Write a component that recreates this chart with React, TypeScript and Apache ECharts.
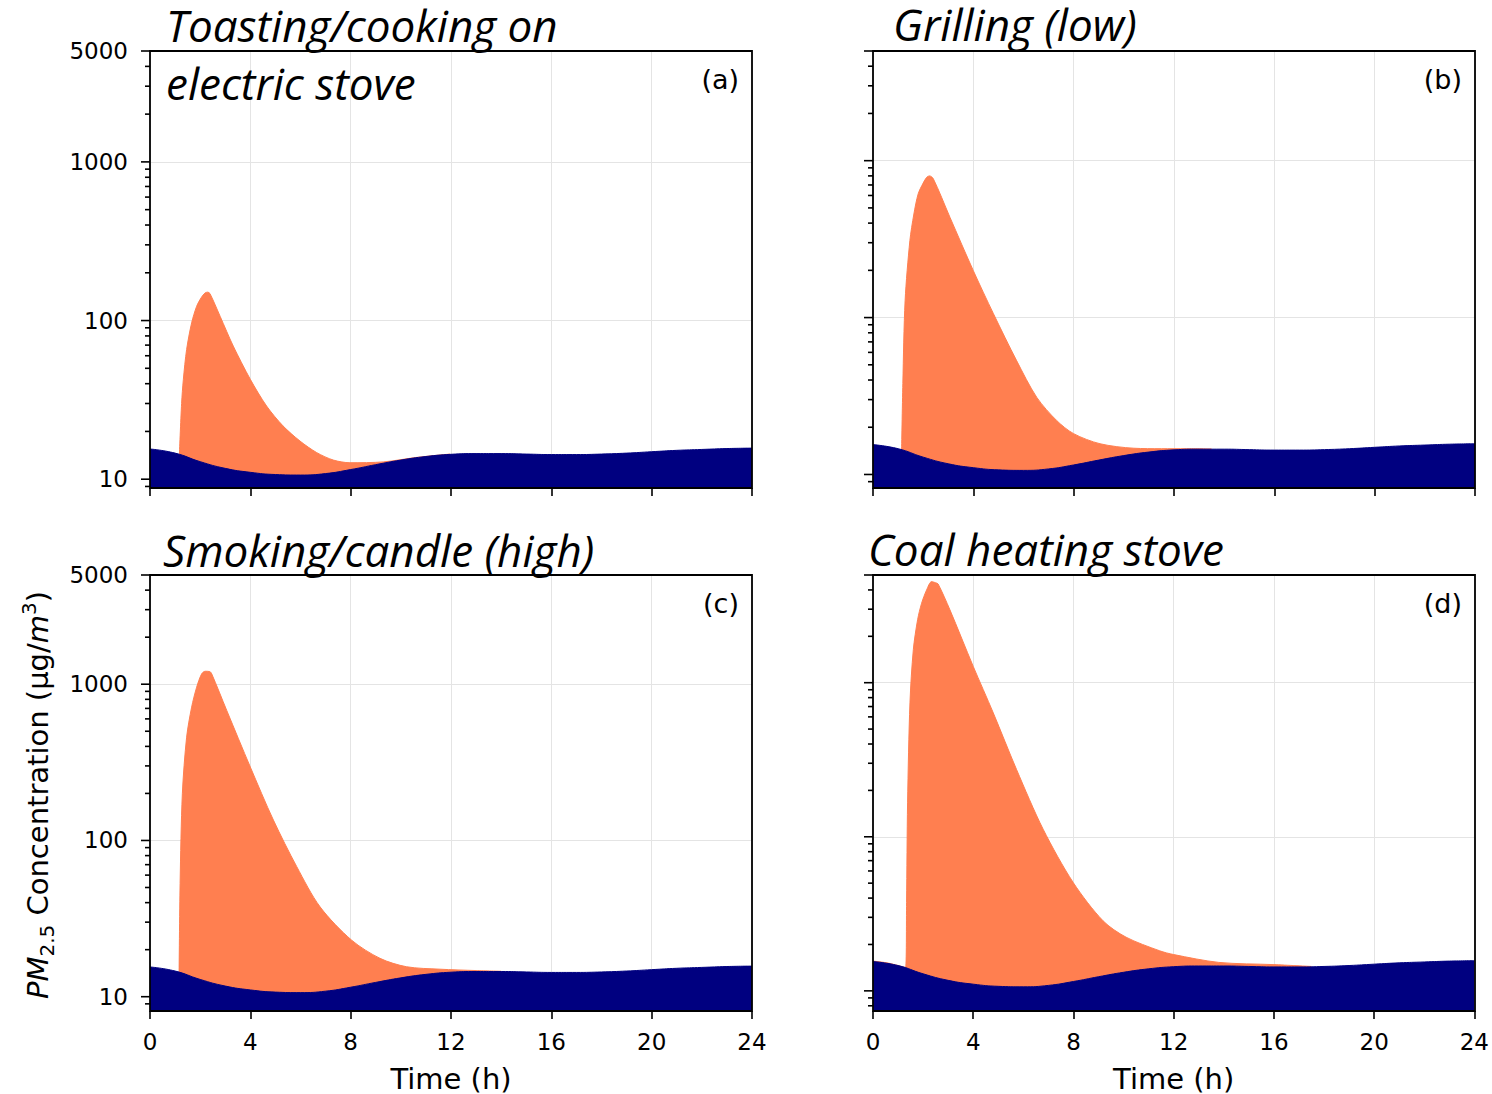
import React, { useEffect, useRef } from "react";
import * as echarts from "echarts";

// ---------- data ----------
const xTickValues = [0, 4, 8, 12, 16, 20, 24];
const yLabelValues = [10, 100, 1000, 5000];
const yMajorTicks = [10, 100, 1000, 5000];
const yMinorTicks = [8, 9, 20, 30, 40, 50, 60, 70, 80, 90, 200, 300, 400, 500, 600, 700, 800, 900, 2000, 3000, 4000];

// background (navy) concentration, shared by all panels
const bgTime = [0, 1, 2, 3, 4, 5, 6, 7, 8, 9, 10, 11, 12, 13, 14, 15, 16, 17, 18, 19, 20, 21, 22, 23, 24];
const bgValues = [15.5, 14.6, 12.9, 11.7, 11.05, 10.7, 10.62, 10.85, 11.5, 12.35, 13.2, 13.9, 14.35, 14.5, 14.5, 14.4, 14.3, 14.3, 14.4, 14.6, 14.9, 15.2, 15.4, 15.6, 15.7];

// total concentration (coral) per panel
const aTime = [1.17, 1.26, 1.33, 1.46, 1.66, 1.86, 2.05, 2.19, 2.3, 2.39, 2.8, 3.32, 4.0, 4.65, 5.3, 5.98, 6.65, 7.31, 7.97, 9.3, 10.6, 11.96];
const aTotal = [14.1, 30, 42.6, 65.7, 96.7, 123, 140, 149, 151, 148, 106, 69, 42.6, 28.9, 21.7, 17.4, 14.7, 13.2, 12.7, 12.85, 13.7, 14.4];

const bTime = [1.14, 1.19, 1.28, 1.47, 1.63, 1.8, 2.0, 2.14, 2.25, 2.4, 3.07, 4.0, 4.8, 5.73, 6.53, 7.32, 8.0, 9.05, 10.4, 11.5, 12.5, 13.5];
const bTotal = [14.1, 38, 128, 309, 457, 614, 720, 783, 800, 770, 435, 199, 106, 53, 31, 22.1, 18.2, 15.7, 14.7, 14.6, 14.6, 14.55];

const cTime = [1.16, 1.2, 1.29, 1.46, 1.66, 1.86, 2.06, 2.2, 2.38, 2.46, 3.06, 4.0, 4.92, 5.85, 6.78, 8.04, 9.17, 10.23, 11.56, 13, 14];
const cTotal = [14.1, 53, 199, 458, 713, 957, 1165, 1210, 1205, 1165, 679, 295, 135, 68, 37.6, 23, 17.6, 15.55, 15.0, 14.7, 14.55];

const dTime = [0, 0.6, 1.3, 1.34, 1.38, 1.475, 1.61, 1.78, 1.94, 2.14, 2.34, 2.5, 2.6, 3.07, 4.0, 4.8, 5.73, 6.79, 7.99, 9.18, 10.1, 11.44, 12, 13.8, 16, 17.5];
const dTotal = [15.6, 15.15, 14.15, 37.5, 166, 739, 1640, 2560, 3280, 4000, 4530, 4450, 4370, 2970, 1276, 637, 273, 112, 50.5, 28.5, 22.3, 18.2, 17.2, 15.3, 14.8, 14.4];

const panelTitles = [["Toasting/cooking on", "electric stove"], ["Grilling (low)"], ["Smoking/candle (high)"], ["Coal heating stove"]];
const panelTags = ["(a)", "(b)", "(c)", "(d)"];
const yMins = [8.8, 8.2, 8.1, 7.4];
const yMax = 5000;

// ---------- styling / layout ----------
const NAVY = "#000080";
const CORAL = "#FF7F50";
const GRID_COLOR = "#e4e4e4";
const TICK_FONT = "DejaVu Sans";
const TEXT_FONT = "DejaVu Sans";
const TITLE_FONT = "Open Sans";

const gridBoxes = [
  { left: 150, top: 51, width: 602, height: 437 },
  { left: 873, top: 51, width: 602, height: 437 },
  { left: 150, top: 575, width: 602, height: 436 },
  { left: 873, top: 575, width: 602, height: 436 },
];

const titlePos = [
  [{ x: 166, y: 25 }, { x: 166, y: 83 }],
  [{ x: 893, y: 24 }],
  [{ x: 163, y: 550 }],
  [{ x: 868, y: 549 }],
];

export default function App() {
  const ref = useRef<HTMLDivElement>(null);

  useEffect(() => {
    const chart = echarts.init(ref.current as HTMLDivElement, null, { renderer: "svg" });
    const totals = [
      { time: aTime, total: aTotal },
      { time: bTime, total: bTotal },
      { time: cTime, total: cTotal },
      { time: dTime, total: dTotal },
    ];

    const yFormatter = (v: number) => {
      const hit = yLabelValues.find((t) => Math.abs(v - t) / t < 1e-6);
      return hit !== undefined ? String(hit) : "";
    };

    const xAxis = gridBoxes.map((_, i) => ({
      type: "value",
      gridIndex: i,
      min: 0,
      max: 24,
      interval: 4,
      axisLine: { show: false },
      axisTick: { show: true, length: 8, lineStyle: { color: "#000", width: 1.6 } },
      axisLabel: {
        show: i >= 2,
        margin: 19,
        fontFamily: TICK_FONT,
        fontSize: 23,
        color: "#000",
        formatter: (v: number) => (xTickValues.includes(v) ? String(v) : ""),
      },
      splitLine: { show: true, lineStyle: { color: GRID_COLOR, width: 1 } },
      name: i >= 2 ? "Time (h)" : "",
      nameLocation: "middle",
      nameGap: 53,
      nameTextStyle: { fontFamily: TEXT_FONT, fontSize: 29, color: "#000" },
    }));

    const yAxis = gridBoxes.map((_, i) => ({
      type: "log",
      logBase: 10,
      gridIndex: i,
      min: yMins[i],
      max: yMax,
      axisLine: { show: false },
      axisTick: { show: false },
      axisLabel: {
        show: i % 2 === 0,
        margin: 22,
        fontFamily: TICK_FONT,
        fontSize: 23,
        color: "#000",
        showMinLabel: false,
        showMaxLabel: true,
        formatter: yFormatter,
      },
      splitLine: { show: true, lineStyle: { color: GRID_COLOR, width: 1 } },
    }));

    const series: any[] = [];
    totals.forEach((p, i) => {
      series.push({
        type: "line",
        xAxisIndex: i,
        yAxisIndex: i,
        data: p.time.map((t, k) => [t, p.total[k]]),
        showSymbol: false,
        symbol: "none",
        smooth: 0.3,
        lineStyle: { color: CORAL, width: 1 },
        areaStyle: { color: CORAL, opacity: 1, origin: "start" },
        silent: true,
        z: 2,
      });
      series.push({
        type: "line",
        xAxisIndex: i,
        yAxisIndex: i,
        data: bgTime.map((t, k) => [t, bgValues[k]]),
        showSymbol: false,
        symbol: "none",
        smooth: 0.5,
        lineStyle: { color: NAVY, width: 1 },
        areaStyle: { color: NAVY, opacity: 1, origin: "start" },
        silent: true,
        z: 3,
      });
      const tickData = [
        ...yMajorTicks.filter((v) => v >= yMins[i]).map((v) => [0, v, 1]),
        ...yMinorTicks.filter((v) => v >= yMins[i]).map((v) => [0, v, 0]),
      ];
      series.push({
        type: "custom",
        xAxisIndex: i,
        yAxisIndex: i,
        data: tickData,
        clip: false,
        silent: true,
        z: 10,
        renderItem: (_params: any, api: any) => {
          const pt = api.coord([0, api.value(1)]);
          const len = api.value(2) ? 9 : 5;
          return {
            type: "line",
            shape: { x1: pt[0] - len, y1: pt[1], x2: pt[0], y2: pt[1] },
            style: { stroke: "#000", lineWidth: 1.6 },
          };
        },
      });
    });

    const graphic: any[] = [];
    gridBoxes.forEach((g, i) => {
      graphic.push({
        type: "rect",
        z: 100,
        silent: true,
        shape: { x: g.left, y: g.top, width: g.width, height: g.height },
        style: { fill: "none", stroke: "#000", lineWidth: 1.8 },
      });
      graphic.push({
        type: "text",
        z: 100,
        silent: true,
        x: g.left + g.width - 13,
        y: g.top + 28,
        style: {
          text: panelTags[i],
          fontFamily: TEXT_FONT,
          fontSize: 27,
          fill: "#000",
          align: "right",
          textAlign: "right",
          verticalAlign: "middle",
          textVerticalAlign: "middle",
        },
      });
      panelTitles[i].forEach((line, k) => {
        graphic.push({
          type: "text",
          z: 100,
          silent: true,
          x: titlePos[i][k].x,
          y: titlePos[i][k].y,
          style: {
            text: line,
            fontFamily: TITLE_FONT,
            fontStyle: "italic",
            fontSize: 44,
            fill: "#000",
            align: "left",
            textAlign: "left",
            verticalAlign: "middle",
            textVerticalAlign: "middle",
          },
        });
      });
    });
    graphic.push({
      type: "text",
      z: 100,
      silent: true,
      x: 38,
      y: 795,
      rotation: Math.PI / 2,
      style: {
        text: "{i|PM}{sub|2.5} Concentration (μg/{i|m}{sup|3})",
        fontFamily: TEXT_FONT,
        fontSize: 29,
        lineHeight: 38,
        fill: "#000",
        align: "center",
        textAlign: "center",
        verticalAlign: "middle",
        textVerticalAlign: "middle",
        rich: {
          i: { fontFamily: TEXT_FONT, fontSize: 29, fontStyle: "italic", lineHeight: 38, fill: "#000" },
          sub: { fontFamily: TEXT_FONT, fontSize: 20, lineHeight: 20, verticalAlign: "bottom", fill: "#000" },
          sup: { fontFamily: TEXT_FONT, fontSize: 20, lineHeight: 20, verticalAlign: "top", fill: "#000" },
        },
      },
    });

    chart.setOption({
      animation: false,
      backgroundColor: "#ffffff",
      grid: gridBoxes.map((g) => ({ ...g, containLabel: false })),
      xAxis,
      yAxis,
      series,
      graphic,
    });

    return () => chart.dispose();
  }, []);

  return (
    <div
      ref={ref}
      style={{ position: "fixed", left: 0, top: 0, width: 1492, height: 1094, background: "#fff" }}
    />
  );
}
